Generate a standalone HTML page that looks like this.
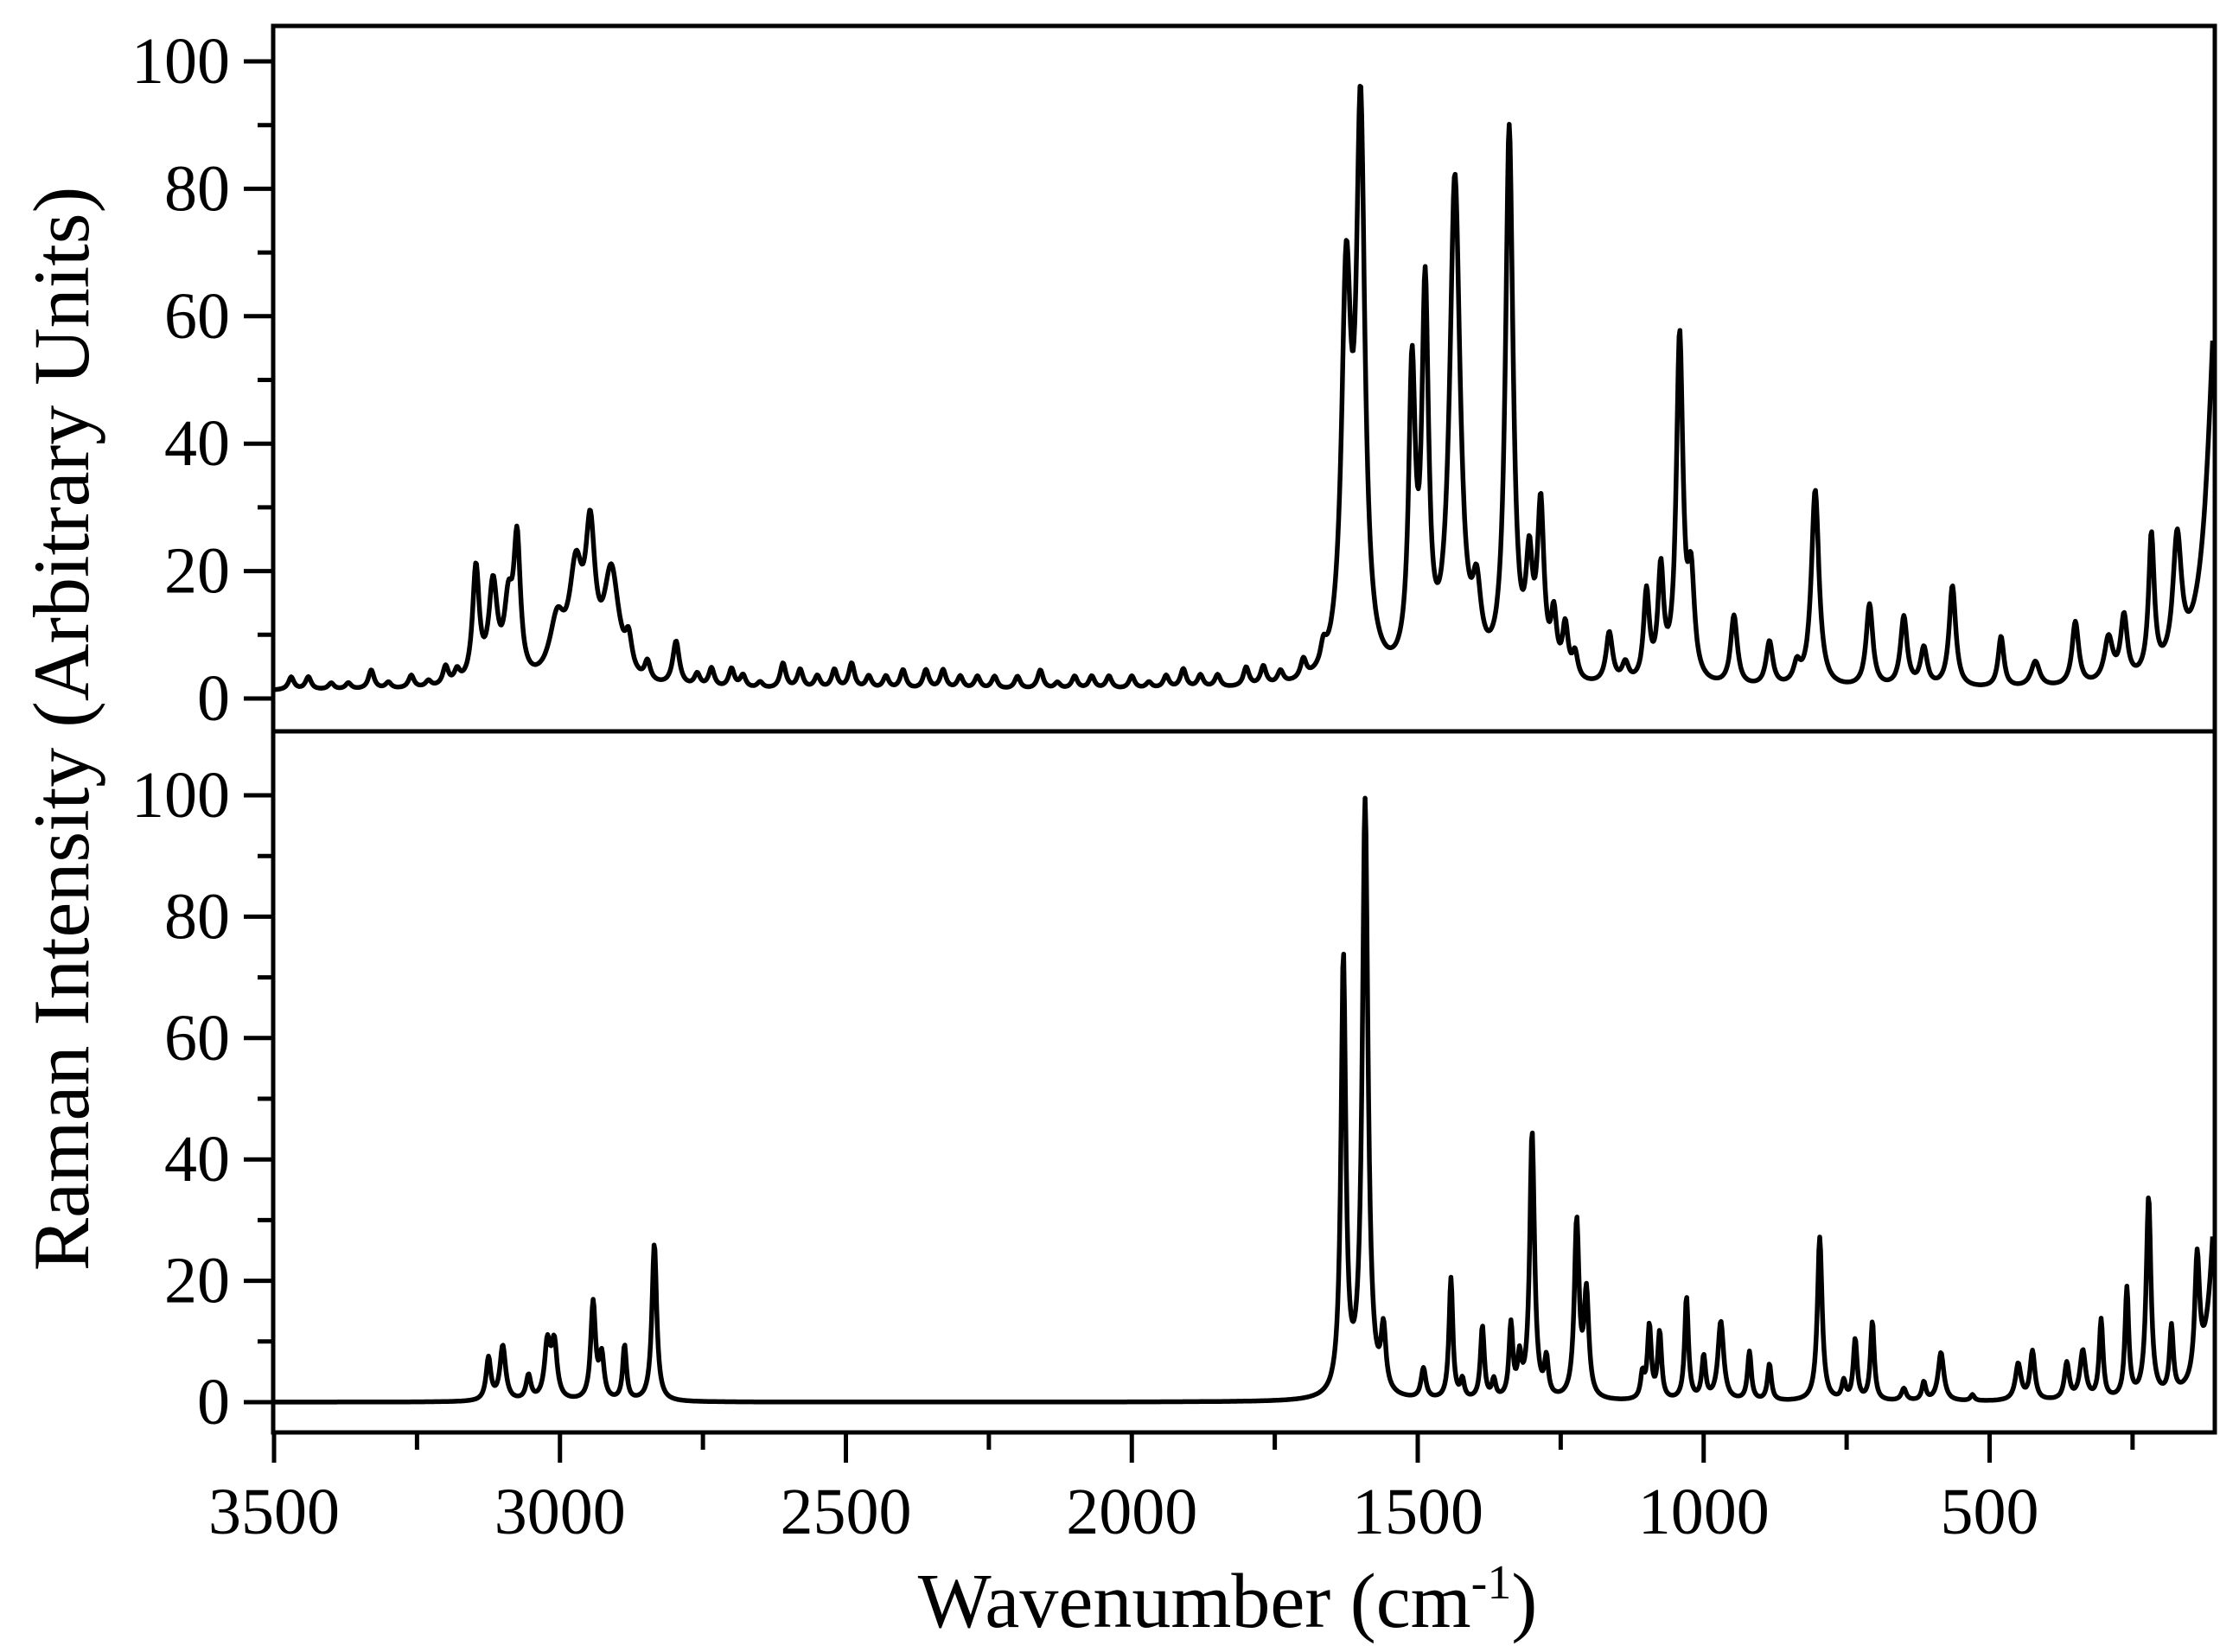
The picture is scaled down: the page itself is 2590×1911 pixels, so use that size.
<!DOCTYPE html>
<html><head><meta charset="utf-8"><style>
html,body{margin:0;padding:0;background:#fff;}
svg{display:block;}
text{font-family:"Liberation Serif",serif;fill:#000;}
</style></head><body>
<svg id="chart" width="2590" height="1911" viewBox="0 0 2590 1911" xmlns="http://www.w3.org/2000/svg"></svg>
<script>
// Data: peak positions (cm-1), heights, half-widths
const topPeakPos = [3147,3117,3090,3075,3005,2972,2947,2910,2880,2847,2797,1625,1600,1510,1487,1435,1397,1340,1305,1285,1262,1242,1225,1165,1137,1100,1075,1042,1022,947,885,837,805,710,650,615,565,480,420,350,292,265,217,172,100];
const topPeakHeight = [18,15,11,21,9,16,21,17,5,3,7,60,86,46,58,78,11,86,16,26,9,8,4,8,3,14,17,54,15,11,7,3,31,13,11,6,16,8,4,10,7,10,22,20,68];
const topPeakWidth = [7,9,9,7,16,14,10,16,7,6,7,10,9,7,7,11,9,8,7,7,6,6,6,7,7,6,6,7,7,7,7,7,8,7,7,7,7,6,9,7,9,7,6,9,20];
const topNoisePos = [3470,3440,3400,3370,3330,3300,3260,3230,3200,3180,2760,2735,2700,2680,2650,2610,2580,2550,2520,2490,2460,2430,2400,2360,2330,2300,2270,2240,2200,2160,2130,2100,2070,2040,2000,1970,1940,1910,1880,1850,1800,1770,1740,1700,1665];
const topNoiseHeight = [2,2,1,1,3,1,2,1,3,2,2,3,3,2,1,4,3,2,3,4,2,2,3,3,3,2,2,2,2,3,1,2,2,2,2,1,2,3,2,2,3,3,2,3,3];
const botPeakPos = [3125,3100,3055,3022,3010,2942,2927,2887,2835,1630,1592,1560,1490,1442,1422,1387,1367,1337,1322,1300,1275,1222,1205,1107,1095,1077,1030,1000,970,920,885,797,755,735,705,650,615,585,530,450,425,365,337,305,260,222,182,137,100];
const botPeakHeight = [7,9,4,9,9,16,7,9,26,72,98,10,5,20,3,12,3,12,6,44,6,29,17,4,12,11,17,7,13,8,6,27,3,10,13,2,3,8,1,6,8,6,8,13,18,33,11,20,40];
const botPeakWidth = [5,6,5,6,6,5,5,4,5,5,6,5,5,4,4,4,4,4,4,5,4,5,5,4,4,4,4,4,6,4,4,5,4,4,4,5,4,6,4,6,5,5,6,4,4,5,4,5,14];
const xTicks = [3500,3000,2500,2000,1500,1000,500];
const yTicks = [0,20,40,60,80,100];

const svg = document.getElementById('chart');
const NS = 'http://www.w3.org/2000/svg';
const L = 316, R = 2562;
const xs = v => 317 + (3500 - v) * 0.6615;
const ysTop = v => 808 - v * 7.37;
const ysBot = v => 1622 - v * 7.02;
function mk(tag, attrs){const e=document.createElementNS(NS,tag);for(const k in attrs)e.setAttribute(k,attrs[k]);svg.appendChild(e);return e;}
function spectrum(pos,h,w,extraPos,extraH,base){
  const pts=[];
  for(let v=3500; v>=110; v-=1.5){
    let s=base;
    for(let i=0;i<pos.length;i++){const d=(v-pos[i])/w[i];s+=h[i]/(1+d*d);}
    if(extraPos){for(let i=0;i<extraPos.length;i++){const d=(v-extraPos[i])/6;s+=extraH[i]/(1+d*d);}}
    pts.push([v,s]);
  }
  return pts;
}
function drawLine(pts, ys, name){
  let d='';
  pts.forEach((p,i)=>{d+=(i?'L':'M')+xs(p[0]).toFixed(1)+' '+ys(Math.min(p[1],110)).toFixed(1);});
  const e=mk('path',{d:d,fill:'none',stroke:'#000','stroke-width':5.5,'stroke-linejoin':'round'});
  
  
}
const cp=mk('clipPath',{id:'cT'});cp.appendChild(document.createElementNS(NS,'rect'));
cp.firstChild.setAttribute('x',L);cp.firstChild.setAttribute('y',30);cp.firstChild.setAttribute('width',R-L);cp.firstChild.setAttribute('height',816);
const cb=mk('clipPath',{id:'cB'});cb.appendChild(document.createElementNS(NS,'rect'));
cb.firstChild.setAttribute('x',L);cb.firstChild.setAttribute('y',846);cb.firstChild.setAttribute('width',R-L);cb.firstChild.setAttribute('height',811);

const gT=mk('g',{'clip-path':'url(#cT)'});
const gB=mk('g',{'clip-path':'url(#cB)'});
let tmp=spectrum(topPeakPos,topPeakHeight,topPeakWidth,topNoisePos,topNoiseHeight,1.2);
drawLine(tmp,ysTop,'experimental-spectrum');gT.appendChild(svg.lastChild);
tmp=spectrum(botPeakPos,botPeakHeight,botPeakWidth,null,null,0);
drawLine(tmp,ysBot,'calculated-spectrum');gB.appendChild(svg.lastChild);

let f=mk('rect',{x:L,y:30,width:R-L,height:816,fill:'none',stroke:'#000','stroke-width':5});

f=mk('rect',{x:L,y:846,width:R-L,height:811,fill:'none',stroke:'#000','stroke-width':5});


[[ysTop,'top'],[ysBot,'bottom']].forEach(([ys,nm])=>{
  for(let v=0;v<=100;v+=10){
    const major=v%20===0;
    const t=mk('line',{x1:L,x2:L-(major?34:18),y1:ys(v),y2:ys(v),stroke:'#000','stroke-width':5});
    
  }
  yTicks.forEach(v=>{
    const t=mk('text',{x:L-50,y:ys(v)+25,'font-size':76,'text-anchor':'end'});
    t.textContent=v;
    
  });
});
for(let v=3500;v>=250;v-=250){
  const major=v%500===0;
  const t=mk('line',{x1:xs(v),x2:xs(v),y1:1657,y2:1657+(major?35:20),stroke:'#000','stroke-width':5});
  
}
xTicks.forEach(v=>{
  const t=mk('text',{x:xs(v),y:1774,'font-size':76,'text-anchor':'middle'});
  t.textContent=v;
  
});
let xt=mk('text',{x:1420,y:1882,'font-size':90,'text-anchor':'middle'});
xt.innerHTML='Wavenumber (cm<tspan dy="-33" font-size="56">-1</tspan><tspan dy="33">)</tspan>';

let yt=mk('text',{x:0,y:0,'font-size':92,'text-anchor':'middle',transform:'translate(102,843) rotate(-90)'});
yt.textContent='Raman Intensity (Arbitrary Units)';

</script>
</body></html>
